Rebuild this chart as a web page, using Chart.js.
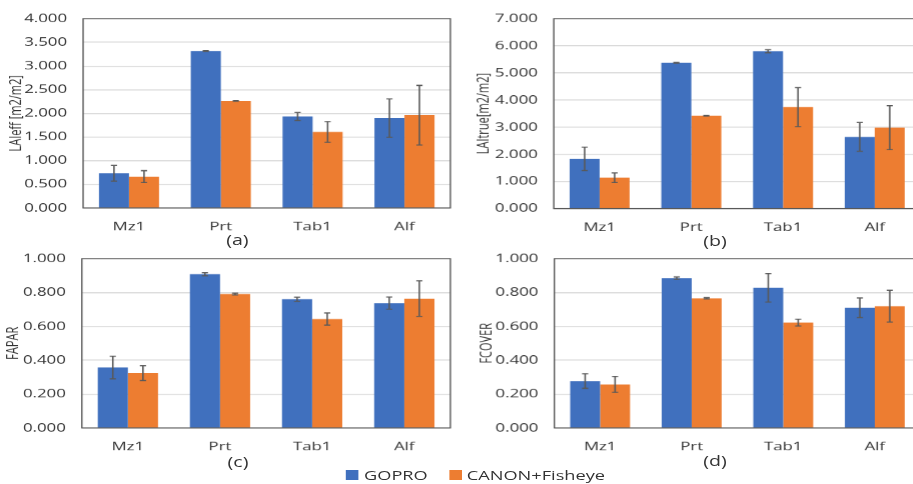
<!DOCTYPE html>
<html>
<head>
<meta charset="utf-8">
<script src="https://cdn.jsdelivr.net/npm/chart.js@4.4.0/dist/chart.umd.min.js"></script>
<style>
html, body { margin: 0; padding: 0; background: #fff; overflow: hidden; width: 913px; height: 484px; }
/* the source picture is stretched sideways, so draw narrow and stretch */
#wrap { position: absolute; left: 0; top: 0; width: 652px; height: 484px; transform: scaleX(1.4); transform-origin: 0 0; font-family: 'Open Sans', sans-serif; color: #333333; }
canvas { position: absolute; }
.cap { position: absolute; width: 40px; text-align: center; font-size: 14px; line-height: 16px; }
.sw { position: absolute; top: 470px; width: 8.8px; height: 9.5px; }
.lg { position: absolute; top: 467px; font-size: 13px; line-height: 16px; white-space: nowrap; }
</style>
</head>
<body>
<div id="wrap">
  <canvas id="chartA" width="326" height="236" style="left:0px;top:0px"></canvas>
  <canvas id="chartB" width="328" height="236" style="left:334px;top:0px"></canvas>
  <canvas id="chartC" width="326" height="236" style="left:0px;top:240px"></canvas>
  <canvas id="chartD" width="328" height="236" style="left:334px;top:240px"></canvas>
  <div class="cap" style="left:149.6px;top:232px">(a)</div>
  <div class="cap" style="left:490.7px;top:233px">(b)</div>
  <div class="cap" style="left:150px;top:453.7px">(c)</div>
  <div class="cap" style="left:490.7px;top:453px">(d)</div>
  <div class="sw" style="left:247.1px;background:#4070BE"></div>
  <div class="lg" style="left:260px">GOPRO</div>
  <div class="sw" style="left:320.9px;background:#ED7D31"></div>
  <div class="lg" style="left:333.4px">CANON+Fisheye</div>
</div>
<script>
var categories = ['Mz1', 'Prt', 'Tab1', 'Alf'];

// (a) LAIeff
var laiEffGopro = [0.733, 3.316, 1.934, 1.899];
var laiEffGoproErr = [0.165, 0.010, 0.085, 0.405];
var laiEffCanon = [0.663, 2.262, 1.606, 1.960];
var laiEffCanonErr = [0.125, 0.006, 0.220, 0.630];

// (b) LAItrue
var laiTrueGopro = [1.832, 5.375, 5.800, 2.640];
var laiTrueGoproErr = [0.430, 0.012, 0.055, 0.530];
var laiTrueCanon = [1.136, 3.420, 3.740, 2.980];
var laiTrueCanonErr = [0.180, 0.012, 0.720, 0.810];

// (c) FAPAR
var faparGopro = [0.357, 0.908, 0.760, 0.737];
var faparGoproErr = [0.067, 0.009, 0.012, 0.036];
var faparCanon = [0.324, 0.791, 0.643, 0.764];
var faparCanonErr = [0.044, 0.005, 0.036, 0.105];

// (d) FCOVER
var fcoverGopro = [0.277, 0.885, 0.828, 0.710];
var fcoverGoproErr = [0.043, 0.007, 0.084, 0.058];
var fcoverCanon = [0.257, 0.766, 0.622, 0.719];
var fcoverCanonErr = [0.047, 0.004, 0.020, 0.094];

var yMax = [4, 7, 1, 1];
var yStep = [0.5, 1, 0.2, 0.2];

var BLUE = '#4070BE';
var ORANGE = '#ED7D31';
var TEXT = '#333333';

Chart.defaults.font.family = "'Open Sans', sans-serif";
Chart.defaults.color = TEXT;

// frame round the plot area + error bars
var frameAndErrors = {
  id: 'frameAndErrors',
  afterDatasetsDraw: function(chart) {
    var ctx = chart.ctx;
    var a = chart.chartArea;
    var y = chart.scales.y;
    ctx.save();
    ctx.strokeStyle = '#595959';
    ctx.lineWidth = 1;
    ctx.strokeRect(a.left, a.top, a.right - a.left, a.bottom - a.top);
    ctx.lineWidth = 1.1;
    chart.data.datasets.forEach(function(ds, i) {
      chart.getDatasetMeta(i).data.forEach(function(bar, j) {
        var hi = y.getPixelForValue(ds.data[j] + ds.errors[j]);
        var lo = y.getPixelForValue(ds.data[j] - ds.errors[j]);
        ctx.beginPath();
        ctx.moveTo(bar.x, hi); ctx.lineTo(bar.x, lo);
        ctx.moveTo(bar.x - 2.2, hi); ctx.lineTo(bar.x + 2.2, hi);
        ctx.moveTo(bar.x - 2.2, lo); ctx.lineTo(bar.x + 2.2, lo);
        ctx.stroke();
      });
    });
    ctx.restore();
  }
};

function makeChart(id, s1, e1, s2, e2, yTitle, n, lay) {
  return new Chart(document.getElementById(id), {
    type: 'bar',
    data: {
      labels: categories,
      datasets: [
        { label: 'GOPRO', data: s1, errors: e1, backgroundColor: BLUE, categoryPercentage: 0.654, barPercentage: 1 },
        { label: 'CANON+Fisheye', data: s2, errors: e2, backgroundColor: ORANGE, categoryPercentage: 0.654, barPercentage: 1 }
      ]
    },
    options: {
      responsive: false,
      animation: false,
      devicePixelRatio: 1.4,
      layout: { padding: { top: lay.padTop, right: 4.6, bottom: 0, left: 0 } },
      plugins: { legend: { display: false }, tooltip: { enabled: false } },
      scales: {
        x: {
          grid: { display: false, drawTicks: false },
          border: { display: false },
          ticks: { padding: 12, font: { size: 12 }, color: TEXT },
          afterFit: function(s) { s.height = lay.xH; }
        },
        y: {
          min: 0,
          max: yMax[n],
          grid: { color: '#D9D9D9', drawTicks: false },
          border: { display: false },
          ticks: {
            stepSize: yStep[n], padding: 11.4, font: { size: 12 }, color: TEXT,
            callback: function(v) { return Number(v).toFixed(3); }
          },
          title: { display: true, text: yTitle, font: { size: 11 }, color: TEXT, padding: { top: lay.tPad, bottom: 0 } },
          afterFit: function(s) { s.width = lay.yW; }
        }
      }
    },
    plugins: [frameAndErrors]
  });
}

var chartA = makeChart('chartA', laiEffGopro, laiEffGoproErr, laiEffCanon, laiEffCanonErr, 'LAIeff [m2/m2]', 0,
  { padTop: 16.7, xH: 28.3, yW: 59.3, tPad: 5 });
var chartB = makeChart('chartB', laiTrueGopro, laiTrueGoproErr, laiTrueCanon, laiTrueCanonErr, 'LAItrue[m2/m2]', 1,
  { padTop: 17.3, xH: 27.7, yW: 61.5, tPad: 5 });
var chartC = makeChart('chartC', faparGopro, faparGoproErr, faparCanon, faparCanonErr, 'FAPAR', 2,
  { padTop: 16.7, xH: 48.3, yW: 58.4, tPad: 3.4 });
var chartD = makeChart('chartD', fcoverGopro, fcoverGoproErr, fcoverCanon, fcoverCanonErr, 'FCOVER', 3,
  { padTop: 16.7, xH: 48.3, yW: 61.9, tPad: 7.6 });
</script>
</body>
</html>
